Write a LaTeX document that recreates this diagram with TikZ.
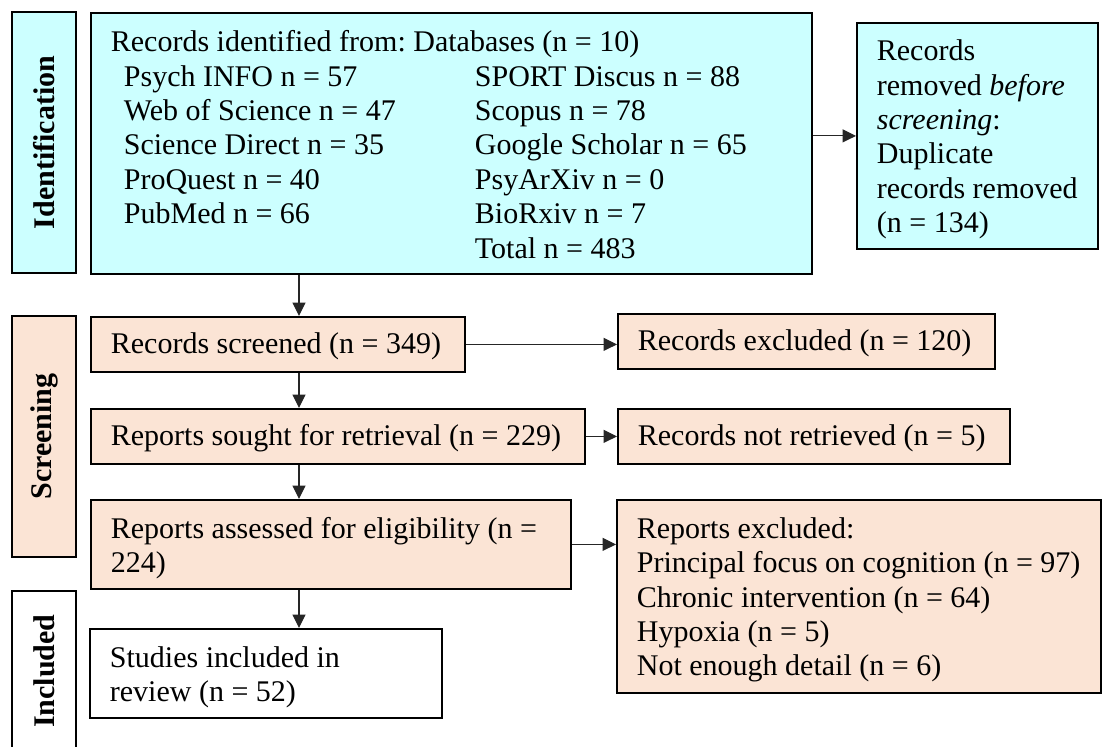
\documentclass[tikz,border=0pt]{standalone}
\usepackage{fontspec}
\setmainfont{Liberation Serif}
\usetikzlibrary{arrows.meta}
\definecolor{idcyan}{HTML}{CCFFFF}
\definecolor{peach}{HTML}{FBE4D5}
\newcommand{\bxt}[3][-1.8pt]{\raisebox{#1}[\height][\depth]{\parbox{#2}{\raggedright\frenchspacing #3}}}
\begin{document}
\begin{tikzpicture}[x=0.5pt,y=-0.5pt,
  box/.style={draw=black, line width=0.9pt, anchor=north west, inner xsep=10pt, inner ysep=0pt, font=\fontsize{15}{17.2}\selectfont},
  lab/.style={draw=black, line width=0.9pt, rotate=90, inner sep=0pt, font=\fontsize{15}{17.2}\selectfont\bfseries},
  arr/.style={line width=0.6pt, draw=black!85, -{Triangle[length=6.7pt,width=6.5pt]}},
]
\useasboundingbox (0,0) rectangle (1102,747);
% phase labels
\node[lab, fill=idcyan, minimum width=130.5pt, minimum height=32pt] (lid) at (44,142.5) {Identification};
\node[lab, fill=peach, minimum width=120.5pt, minimum height=32pt] (lscr) at (44,436.5) {Screening};
\node[lab, fill=white, minimum width=80pt, minimum height=32pt] (linc) at (44,671) {Included};
% identification
\node[box, fill=idcyan, minimum height=130.5pt] (main) at (90,12) {\bxt[-0.5pt]{340.5pt}{Records identified from: Databases (n = 10)\\
\hspace*{6.5pt}\makebox[175.5pt][l]{Psych INFO n = 57}SPORT Discus n = 88\\
\hspace*{6.5pt}\makebox[175.5pt][l]{Web of Science n = 47}Scopus n = 78\\
\hspace*{6.5pt}\makebox[175.5pt][l]{Science Direct n = 35}Google Scholar n = 65\\
\hspace*{6.5pt}\makebox[175.5pt][l]{ProQuest n = 40}PsyArXiv n = 0\\
\hspace*{6.5pt}\makebox[175.5pt][l]{PubMed n = 66}BioRxiv n = 7\\
\hspace*{6.5pt}\makebox[175.5pt][l]{}Total n = 483}};
\node[box, fill=idcyan, minimum height=113pt] (removed) at (856,22) {\bxt{100.5pt}{Records\\ removed \textit{before}\\ \textit{screening}:\\ Duplicate\\ \mbox{records removed}\\ (n = 134)}};
% screening
\node[box, fill=peach, minimum height=27.5pt] (screened) at (90,316) {\bxt[-1pt]{167pt}{\mbox{Records screened (n = 349)}}};
\node[box, fill=peach, minimum height=27.5pt] (excluded) at (617,313) {\bxt[-1pt]{168.5pt}{\mbox{Records excluded (n = 120)}}};
\node[box, fill=peach, minimum height=27.5pt] (sought) at (90,408) {\bxt[-1pt]{227pt}{\mbox{Reports sought for retrieval (n = 229)}}};
\node[box, fill=peach, minimum height=27.5pt] (notret) at (617,408) {\bxt[-1pt]{176pt}{\mbox{Records not retrieved (n = 5)}}};
\node[box, fill=peach, minimum height=44.5pt] (assessed) at (90,499) {\bxt{220pt}{\mbox{Reports assessed for eligibility (n =}\\ 224)}};
\node[box, fill=peach, minimum height=96.5pt] (repexcl) at (616,499) {\bxt{222pt}{Reports excluded:\\ \mbox{Principal focus on cognition (n = 97)}\\ Chronic intervention (n = 64)\\ Hypoxia (n = 5)\\ Not enough detail (n = 6)}};
% included
\node[box, fill=white, minimum height=44.5pt] (studies) at (89,628) {\bxt{156pt}{Studies included in\\ review (n = 52)}};
% connectors
\coordinate (ax) at (299,0);
\draw[arr] (main.south -| ax) -- (screened.north -| ax);
\draw[arr] (screened.south -| ax) -- (sought.north -| ax);
\draw[arr] (sought.south -| ax) -- (assessed.north -| ax);
\draw[arr] (assessed.south -| ax) -- (studies.north -| ax);
\draw[arr] (main.east |- removed.west) -- (removed.west);
\draw[arr] (screened.east) -- (excluded.west |- screened.east);
\draw[arr] (sought.east) -- (notret.west |- sought.east);
\draw[arr] (assessed.east) -- (repexcl.west |- assessed.east);
\end{tikzpicture}
\end{document}
